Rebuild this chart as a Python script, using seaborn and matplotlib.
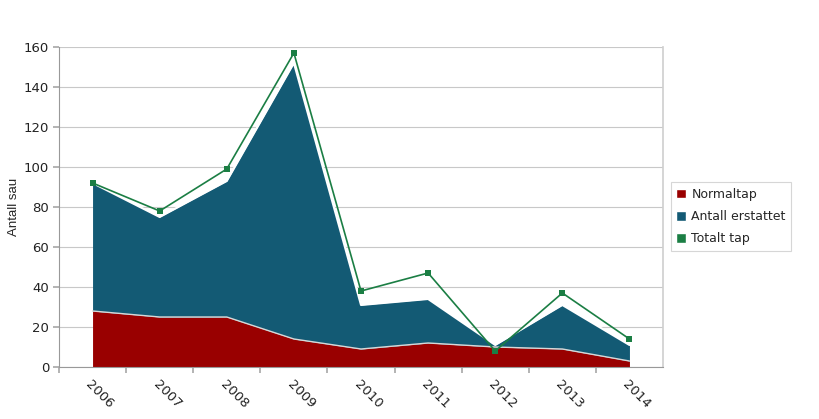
import matplotlib
matplotlib.use("Agg")
import matplotlib.pyplot as plt
import seaborn as sns
import pandas as pd
import numpy as np
from matplotlib.patches import Patch

years = ["2006", "2007", "2008", "2009", "2010", "2011", "2012", "2013", "2014"]
normaltap = [28, 25, 25, 14, 9, 12, 10, 9, 3]
erstattet = [64, 50, 68, 138, 22, 22, 1, 22, 8]
totalt_tap = [92, 78, 99, 157, 38, 47, 8, 37, 14]

c_red = "#990000"
c_blue = "#135A74"
c_green = "#1B7E44"

sns.set_theme(style="white")
plt.rcParams["font.family"] = ["DejaVu Sans"]

fig = plt.figure(figsize=(8.19, 4.19), dpi=100)
ax = fig.add_axes([59 / 819, 52 / 419, 604 / 819, 320 / 419])

df = pd.DataFrame({"year": years, "Normaltap": normaltap,
                   "Antall erstattet": erstattet, "Totalt tap": totalt_tap})
x = np.arange(len(years))
top = np.array(normaltap) + np.array(erstattet)

ax.fill_between(x, 0, df["Normaltap"], color=c_red, lw=0, zorder=2)
ax.fill_between(x, df["Normaltap"], top, color=c_blue, lw=0, zorder=2)
ax.plot(x, df["Normaltap"], color="#d8d8d8", lw=1, zorder=3)
ax.plot(x, top, color="white", lw=1.5, zorder=3)

sns.lineplot(x=x, y=df["Totalt tap"], ax=ax, color=c_green, lw=1.2,
             marker="s", markersize=5, markeredgewidth=0, zorder=4)

ax.set_xlim(-0.5, len(years) - 0.5)
ax.set_ylim(0, 160)
ax.set_yticks(range(0, 161, 20))
ax.set_xticks(np.arange(-0.5, len(years) - 0.5, 1), minor=False)
ax.set_xticklabels([])
ax.set_xticks(x, minor=True)
ax.set_xticklabels(years, minor=True, rotation=-45, ha="left",
                   rotation_mode="anchor", fontsize=9.5, color="#222222")
ax.tick_params(axis="x", which="major", length=4, color="#aaaaaa", bottom=True)
ax.tick_params(axis="x", which="minor", length=0, pad=8, bottom=True)
ax.tick_params(axis="y", length=4, color="#aaaaaa", labelsize=9.5,
               labelcolor="#222222", left=True, pad=3)

ax.grid(axis="y", color="#c8c8c8", lw=0.8, zorder=0)
ax.set_axisbelow(True)
for s in ["left", "bottom"]:
    ax.spines[s].set_color("#999999")
    ax.spines[s].set_linewidth(0.8)
ax.spines["right"].set_color("#d0d0d0")
ax.spines["top"].set_visible(False)
ax.set_xlabel("")
ax.set_ylabel("Antall sau", family="Liberation Sans", fontsize=9.5, labelpad=3)

handles = [Patch(facecolor=c_red, label="Normaltap"),
           Patch(facecolor=c_blue, label="Antall erstattet"),
           Patch(facecolor=c_green, label="Totalt tap")]
leg = ax.legend(handles=handles, loc="center left", bbox_to_anchor=(1.013, 0.47),
                frameon=True, fancybox=False, fontsize=9, handlelength=0.8,
                handleheight=0.8, handletextpad=0.4, borderpad=0.45,
                labelspacing=0.75, borderaxespad=0)
leg.get_frame().set_edgecolor("#cccccc")
leg.get_frame().set_linewidth(0.8)

fig.savefig("out.png", dpi=100)
